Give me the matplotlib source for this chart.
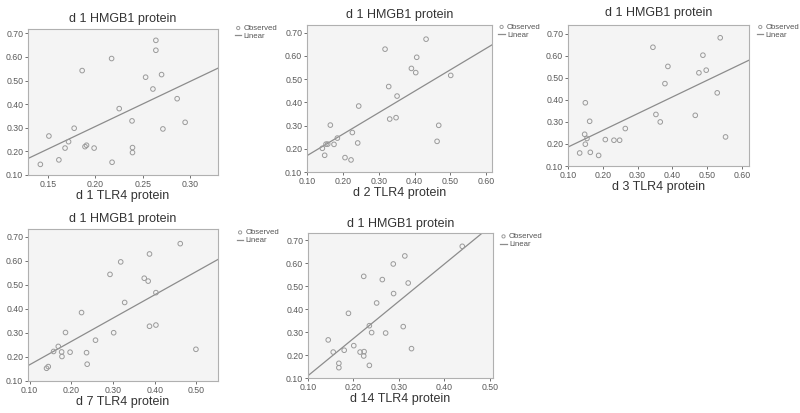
import numpy as np
import matplotlib
matplotlib.use("Agg")
import matplotlib.pyplot as plt

plt.rcParams.update({
    "font.family": ["Liberation Sans", "DejaVu Sans"],
    "font.size": 6
})

###############################################
# DATA
###############################################

title = "d 1 HMGB1 protein"

x_d1 = [0.142, 0.151, 0.1615, 0.168, 0.1717, 0.1776, 0.186, 0.189, 0.1906, 0.1986,
        0.217, 0.2175, 0.225, 0.2385, 0.239, 0.239, 0.2528, 0.2605, 0.2636, 0.2636,
        0.2696, 0.271, 0.286, 0.2944]
y_d1 = [0.145, 0.265, 0.164, 0.214, 0.241, 0.298, 0.542, 0.220, 0.226, 0.214,
        0.593, 0.154, 0.381, 0.329, 0.216, 0.195, 0.514, 0.464, 0.670, 0.628,
        0.525, 0.295, 0.423, 0.323]

x_d2 = [0.1428, 0.1493, 0.153, 0.1577, 0.1651, 0.1753, 0.1847, 0.206, 0.2228, 0.2265,
        0.2414, 0.2442, 0.3177, 0.3279, 0.3307, 0.3484, 0.3512, 0.3912, 0.4033, 0.406,
        0.4321, 0.4628, 0.4674, 0.5009]
y_d2 = [0.202, 0.172, 0.220, 0.220, 0.302, 0.219, 0.246, 0.162, 0.152, 0.270,
        0.225, 0.384, 0.629, 0.468, 0.328, 0.334, 0.427, 0.546, 0.528, 0.594,
        0.672, 0.232, 0.301, 0.516]

x_d3 = [0.1335, 0.1478, 0.1498, 0.1498, 0.1545, 0.1622, 0.1641, 0.188, 0.2072, 0.232,
        0.2483, 0.2646, 0.344, 0.3526, 0.365, 0.3785, 0.387, 0.4656, 0.4761, 0.4876,
        0.4971, 0.5287, 0.5373, 0.5526]
y_d3 = [0.159, 0.244, 0.387, 0.199, 0.225, 0.303, 0.162, 0.148, 0.220, 0.217,
        0.217, 0.270, 0.639, 0.334, 0.300, 0.474, 0.552, 0.330, 0.523, 0.603,
        0.535, 0.432, 0.682, 0.232]

x_d7 = [0.1405, 0.1446, 0.1574, 0.1687, 0.1767, 0.1775, 0.186, 0.197, 0.2245, 0.2365,
        0.238, 0.258, 0.2928, 0.3016, 0.3185, 0.328, 0.375, 0.3844, 0.3876, 0.3876,
        0.403, 0.403, 0.4614, 0.499]
y_d7 = [0.153, 0.160, 0.223, 0.244, 0.221, 0.202, 0.302, 0.220, 0.385, 0.218,
        0.170, 0.270, 0.544, 0.301, 0.596, 0.427, 0.528, 0.516, 0.629, 0.328,
        0.333, 0.468, 0.672, 0.232]

x_d14 = [0.1445, 0.1555, 0.1679, 0.1679, 0.1796, 0.189, 0.2007, 0.2146, 0.2226, 0.2234,
         0.2226, 0.235, 0.235, 0.240, 0.251, 0.2635, 0.2708, 0.2876, 0.2883, 0.3095,
         0.313, 0.3204, 0.3277, 0.4394]
y_d14 = [0.266, 0.213, 0.164, 0.145, 0.221, 0.382, 0.241, 0.213, 0.543, 0.215,
         0.196, 0.155, 0.328, 0.298, 0.427, 0.529, 0.296, 0.597, 0.468, 0.324,
         0.632, 0.514, 0.228, 0.674]

xlabels = ["d 1 TLR4 protein", "d 2 TLR4 protein", "d 3 TLR4 protein",
           "d 7 TLR4 protein", "d 14 TLR4 protein"]
xs = [x_d1, x_d2, x_d3, x_d7, x_d14]
ys = [y_d1, y_d2, y_d3, y_d7, y_d14]

xticks = [[0.15, 0.20, 0.25, 0.30],
          [0.10, 0.20, 0.30, 0.40, 0.50, 0.60],
          [0.10, 0.20, 0.30, 0.40, 0.50, 0.60],
          [0.10, 0.20, 0.30, 0.40, 0.50],
          [0.10, 0.20, 0.30, 0.40, 0.50]]
yticks = [0.10, 0.20, 0.30, 0.40, 0.50, 0.60, 0.70]

###############################################
# LAYOUT (pixels of the 800x413 picture)
###############################################

W, H = 800, 413
# left, right, top, bottom
boxes = [(28, 218, 29, 175),
         (307, 492, 25, 172),
         (568, 749, 25, 166),
         (28, 218, 229, 381),
         (308, 493, 233, 378)]
xlims = [(0.129, 0.329), (0.10, 0.616), (0.10, 0.62), (0.096, 0.552), (0.102, 0.507)]
ylims = [(0.10, 0.718), (0.10, 0.733), (0.10, 0.74), (0.10, 0.733), (0.10, 0.732)]
leg_pos = [(1.09, 1.03), (1.035, 1.01), (1.045, 1.01), (1.10, 1.0), (1.04, 1.0)]
title_pad = [5, 5, 6.5, 5, 4]

GREY = "#8c8c8c"

fig = plt.figure(figsize=(8, 4.13), dpi=100)

for i in range(5):

    l, r, t, b = boxes[i]
    ax = fig.add_axes([l / W, 1 - b / H, (r - l) / W, (b - t) / H])
    ax.set_facecolor("#f4f4f4")

    x = np.array(xs[i])
    y = np.array(ys[i])

    ax.scatter(x, y, s=11, facecolors="none", edgecolors="#9a9a9a",
               linewidths=0.7, label="Observed", zorder=3)

    # linear fit line
    k, c = np.polyfit(x, y, 1)
    lx = np.array(xlims[i])
    ax.plot(lx, k * lx + c, color=GREY, lw=0.9, label="Linear", zorder=2)

    ax.set_xlim(xlims[i])
    ax.set_ylim(ylims[i])
    ax.set_xticks(xticks[i])
    ax.set_yticks(yticks)
    ax.set_xticklabels(["%.2f" % v for v in xticks[i]])
    ax.set_yticklabels(["%.2f" % v for v in yticks])
    ax.tick_params(axis="both", labelsize=6.3, colors="#5a5a5a", length=2,
                   width=0.6, pad=1.5)

    for sp in ax.spines.values():
        sp.set_color("#b0b0b0")
        sp.set_linewidth(0.8)

    ax.set_title(title, fontsize=9, color="#333333", pad=title_pad[i])
    ax.set_xlabel(xlabels[i], fontsize=9, color="#333333", labelpad=1)

    ax.legend(loc="upper left", bbox_to_anchor=leg_pos[i], frameon=False,
              fontsize=5.6, handlelength=0.8, handletextpad=0.3,
              labelspacing=0.05, borderpad=0, borderaxespad=0,
              labelcolor="#555555", markerscale=0.7)

fig.savefig("out.png", dpi=100, facecolor="white")
